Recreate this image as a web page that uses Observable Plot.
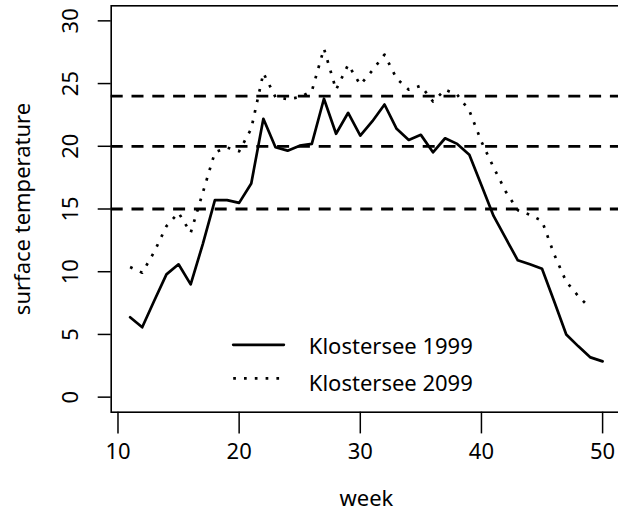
<!DOCTYPE html>
<html>
<head>
<meta charset="utf-8">
<script src="https://cdn.jsdelivr.net/npm/d3@7"></script>
<script src="https://cdn.jsdelivr.net/npm/@observablehq/plot@0.6"></script>
<style>
  html, body { margin: 0; padding: 0; background: #fff; }
  #chart svg { display: block; }
</style>
</head>
<body>
<div id="chart"></div>
<script>
// ---- data ----
const weeks1999 = [11,12,13,14,15,16,17,18,19,20,21,22,23,24,25,26,27,28,29,30,
                   31,32,33,34,35,36,37,38,39,40,41,42,43,44,45,46,47,48,49,50];
const temp1999 = [6.37,5.57,7.7,9.79,10.59,8.99,12.2,15.71,15.71,15.49,17.04,22.19,19.92,19.65,20.05,20.19,23.79,21.0,22.67,20.85,
                  22.0,23.33,21.39,20.51,20.91,19.52,20.64,20.19,19.33,16.9,14.45,12.67,10.91,10.59,10.24,7.65,4.99,4.05,3.17,2.85];
const weeks2099 = [11,12,13,14,15,16,17,18,19,20,21,22,23,24,25,26,27,28,29,30,
                   31,32,33,34,35,36,37,38,39,40,41,42,43,44,45,46,47,48,49];
const temp2099 = [10.37,9.92,11.6,13.63,14.7,13.1,16.3,19.52,19.9,19.6,21.4,25.84,23.92,23.76,23.92,24.4,27.79,24.51,26.51,24.91,
                  26.05,27.31,25.39,24.51,24.83,23.57,24.51,24.11,22.85,20.37,18.32,16.4,14.91,14.53,14.05,11.39,9.2,8.05,7.07];
const thresholds = [15, 20, 24];
const xTicks = [10, 20, 30, 40, 50];
const yTicks = [0, 5, 10, 15, 20, 25, 30];
const seriesLabels = ["Klostersee 1999", "Klostersee 2099"];
const xLabel = "week";
const yLabel = "surface temperature";

// legend placement in data units
const legendLineX = [19.51, 23.69];
const legendTextX = 25.75;
const legendLineY = [4.17, 1.50];
const legendTextY = [3.98, 1.05];

const rows1999 = weeks1999.map((w, i) => ({week: w, temp: temp1999[i]}));
const rows2099 = weeks2099.map((w, i) => ({week: w, temp: temp2099[i]}));

const FONT = "Noto Sans";
const FS = 22;

const chart = Plot.plot({
  width: 618,
  height: 513,
  marginLeft: 110.7,
  marginRight: -3,
  marginTop: 5.3,
  marginBottom: 101.3,
  style: {fontFamily: FONT, fontSize: FS + "px", background: "#fff", color: "#000"},
  x: {domain: [9.44, 51.56]},
  y: {domain: [-1.2, 31.2]},
  marks: [
    Plot.frame({stroke: "#000", strokeWidth: 1.6}),
    Plot.ruleY(thresholds, {stroke: "#000", strokeWidth: 2.8, strokeDasharray: "12 8.8"}),
    Plot.line(rows1999, {x: "week", y: "temp", stroke: "#000", strokeWidth: 2.7}),
    Plot.line(rows2099, {x: "week", y: "temp", stroke: "#000", strokeWidth: 2.7,
                         strokeDasharray: "2.7 8.1", strokeLinecap: "butt"}),
    // x axis
    Plot.axisX(xTicks, {tickSize: 21.7, tickPadding: 9, strokeWidth: 1.5, fontSize: FS, label: null}),
    // y axis ticks and rotated labels
    Plot.axisY(yTicks, {tickSize: 13, strokeWidth: 1.5, tickFormat: () => "", label: null}),
    Plot.text(yTicks, {y: d => d, text: d => String(d), frameAnchor: "left", dx: -39.9,
                       rotate: -90, textAnchor: "middle", lineAnchor: "middle", fontSize: FS, fill: "#000"}),
    // axis titles
    Plot.text([xLabel], {frameAnchor: "bottom", dy: 94, lineAnchor: "bottom", fontSize: FS, fill: "#000"}),
    Plot.text([yLabel], {frameAnchor: "left", dx: -88.7, rotate: -90, textAnchor: "middle",
                         lineAnchor: "middle", fontSize: FS, fill: "#000"}),
    // legend
    Plot.line([{x: legendLineX[0], y: legendLineY[0]}, {x: legendLineX[1], y: legendLineY[0]}],
              {x: "x", y: "y", stroke: "#000", strokeWidth: 2.7}),
    Plot.line([{x: legendLineX[0], y: legendLineY[1]}, {x: legendLineX[1], y: legendLineY[1]}],
              {x: "x", y: "y", stroke: "#000", strokeWidth: 2.7, strokeDasharray: "2.7 8.1", strokeLinecap: "butt"}),
    Plot.text(seriesLabels, {x: () => legendTextX, y: (d, i) => legendTextY[i], text: d => d,
                             textAnchor: "start", lineAnchor: "middle", fontSize: FS, fill: "#000"})
  ]
});
document.getElementById("chart").appendChild(chart);
</script>
</body>
</html>
